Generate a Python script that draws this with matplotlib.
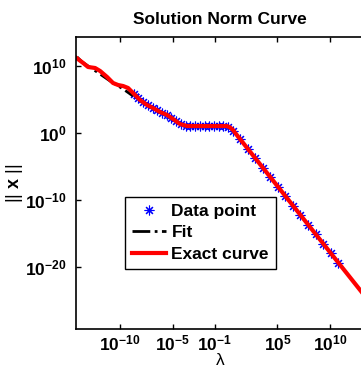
"""Solution norm curve: ||x|| versus lambda, data points, fit and exact curve."""

import numpy as np
import matplotlib.pyplot as plt

plt.rcParams["font.family"] = "Liberation Sans"
plt.rcParams["font.weight"] = "bold"
plt.rcParams["mathtext.fontset"] = "custom"
plt.rcParams["mathtext.rm"] = "Liberation Sans:bold"
plt.rcParams["mathtext.bf"] = "Liberation Sans:bold"
plt.rcParams["mathtext.it"] = "Liberation Sans:bold"

# values, as log10 exponents
exact_log_lam = [-14.2, -13.52, -13.05, -12.38, -11.90, -11.24, -10.67, -10.19,
                 -9.71, -9.24, -8.76, -8.10, -7.43, -6.86, -6.19, -5.52, -4.95,
                 -4.29, -3.62, -2.38, 0.19, 0.48, 0.76, 1.05, 1.43,
                 3.0, 5.0, 7.0, 9.0, 11.0, 13.0, 15.0]
exact_log_norm = [11.25, 10.45, 9.85, 9.70, 9.25, 8.36, 7.46, 7.16,
                  7.01, 6.72, 5.97, 4.93, 4.18, 3.73, 3.13, 2.69, 2.09,
                  1.34, 1.04, 1.04, 1.04, 0.82, 0.45, -0.15, -0.90,
                  -3.99, -7.93, -11.87, -15.81, -19.75, -23.69, -27.63]

data_log_lam = [-8.70, -8.25, -7.80, -7.35, -6.90, -6.45, -6.00, -5.55, -5.10,
                -4.65, -4.20, -3.75, -3.30, -2.85, -2.40, -1.95, -1.50, -1.05,
                -0.60, -0.15, 0.30, 0.80, 1.43, 2.15, 2.87, 3.59, 4.31, 5.03,
                5.75, 6.47, 7.19, 7.91, 8.63, 9.35, 10.07, 10.79]
data_log_norm = [5.88, 5.17, 4.59, 4.12, 3.76, 3.36, 3.01, 2.71, 2.25,
                 1.75, 1.30, 1.10, 1.04, 1.04, 1.04, 1.04, 1.04, 1.04,
                 1.04, 1.04, 0.96, 0.37, -0.90, -2.32, -3.74, -5.16, -6.58, -8.00,
                 -9.42, -10.84, -12.25, -13.67, -15.09, -16.51, -17.93, -19.35]

fit_log_lam = [-14.10, -13.62, -12.19, -10.95, -9.71, -8.76]
fit_log_norm = [11.34, 10.60, 9.10, 7.76, 6.57, 5.52]

x_ticks = [1e-10, 1e-5, 1e-1, 1e5, 1e10]
y_ticks = [1e10, 1e0, 1e-10, 1e-20]

fig = plt.figure(figsize=(3.61, 3.75), dpi=100)
ax = fig.add_axes([0.2105, 0.1227, 0.798, 0.7787])

ax.plot(10.0 ** np.array(data_log_lam), 10.0 ** np.array(data_log_norm),
        linestyle="none", marker=(8, 2, 0), markersize=7,
        markeredgewidth=0.8, color="blue", label="Data point")
ax.plot(10.0 ** np.array(fit_log_lam), 10.0 ** np.array(fit_log_norm),
        linestyle="-.", color="black", linewidth=2.0, label="Fit")
ax.plot(10.0 ** np.array(exact_log_lam), 10.0 ** np.array(exact_log_norm),
        color="red", linewidth=3.0, label="Exact curve")

ax.set_xscale("log")
ax.set_yscale("log")
ax.set_xlim(10 ** -14.2, 10 ** 13.25)
ax.set_ylim(10 ** -29.25, 10 ** 14.33)
ax.set_xticks(x_ticks)
ax.set_yticks(y_ticks)
ax.minorticks_off()
ax.tick_params(direction="in", top=True, right=False, length=3.3,
               width=1.0, labelsize=12.5)
ax.tick_params(axis="x", pad=3)
ax.tick_params(axis="y", pad=7)
for sp in ax.spines.values():
    sp.set_linewidth(1.2)

ax.set_title("Solution Norm Curve", fontsize=12.5, fontweight="bold", pad=9)
ax.set_xlabel("\u03bb", fontsize=12.5, fontweight="normal", labelpad=0)
ax.set_ylabel(r"|| $\mathbf{x}$ ||", fontsize=13, fontweight="normal",
              labelpad=0)

ax.legend(loc="upper left", bbox_to_anchor=(0.346, 0.4747),
          bbox_transform=fig.transFigure, borderaxespad=0, fancybox=False,
          edgecolor="black", framealpha=1,
          prop={"weight": "bold", "size": 12.5}, handlelength=2.0,
          handletextpad=0.3, labelspacing=0.38, borderpad=0.38)
ax.get_legend().get_frame().set_linewidth(1.0)

fig.savefig("out.png", dpi=100)
